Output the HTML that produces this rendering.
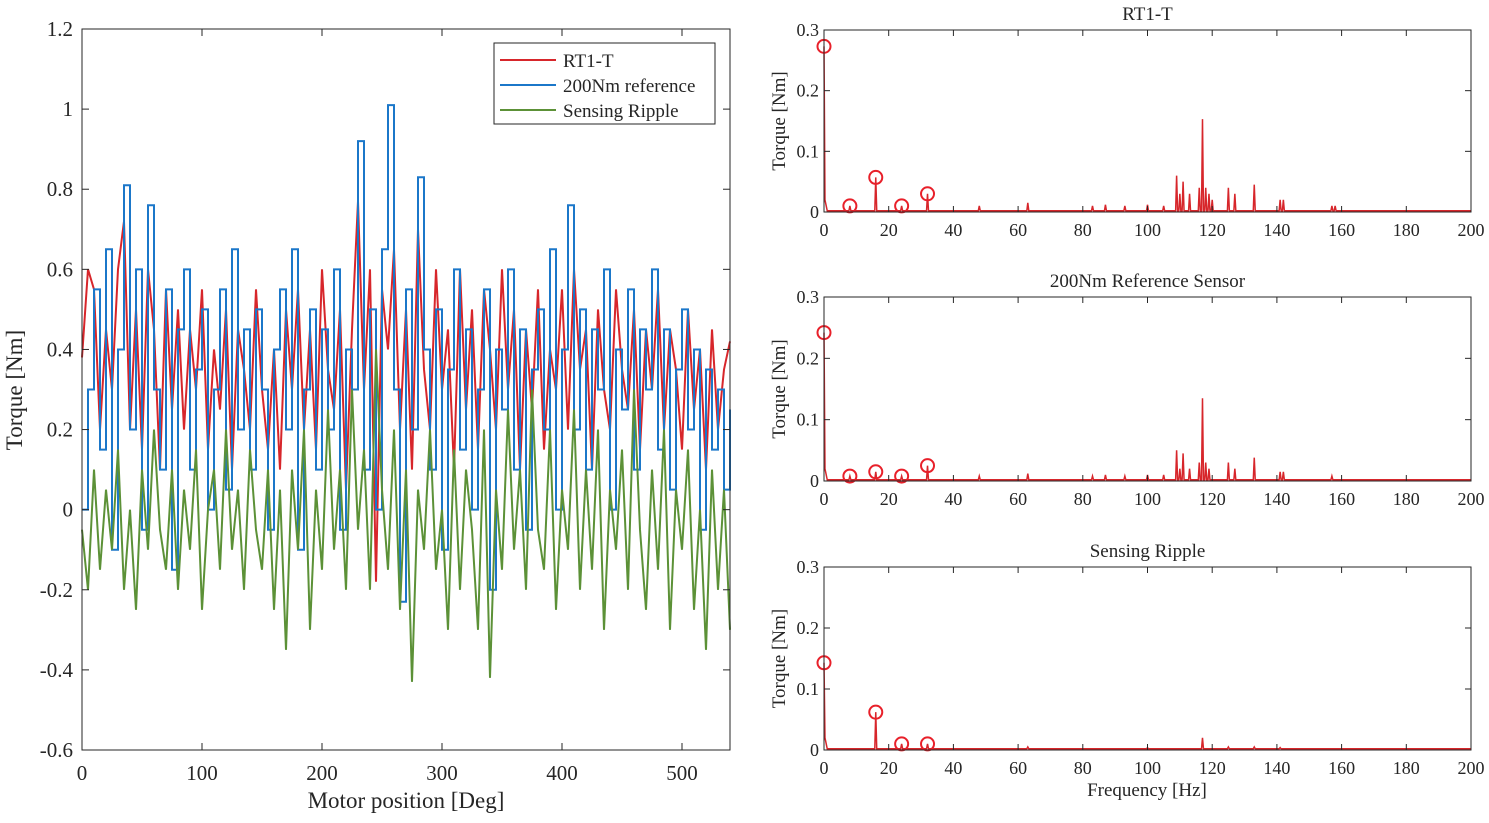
<!DOCTYPE html>
<html><head><meta charset="utf-8">
<style>
body{margin:0;background:#fff;}
svg text{font-family:"Liberation Serif",serif;fill:#262626;}
</style></head>
<body>
<svg id="c" width="1489" height="818"></svg>
<script>
// Left chart data (motor position 0..540 deg, evenly sampled)
const redVals=[0.38,0.6,0.55,0.2,0.45,0.3,0.6,0.72,0.2,0.5,0.15,0.6,0.45,0.1,0.55,0.25,0.5,0.2,0.45,0.3,0.55,0.15,0.4,0.25,0.5,0.1,0.45,0.35,0.2,0.55,0.3,0.15,0.4,0.1,0.5,0.3,0.55,0.2,0.45,0.15,0.6,0.35,0.25,0.5,0.05,0.45,0.77,0.3,0.6,-0.18,0.55,0.4,0.65,0.2,0.5,0.1,0.7,0.35,0.2,0.6,0.3,0.45,0.1,0.6,0.25,0.5,0.15,0.55,0.4,0.2,0.6,0.3,0.5,0.1,0.45,0.25,0.55,0.15,0.4,0.3,0.55,0.2,0.6,0.35,0.45,0.1,0.5,0.3,0.2,0.55,0.35,0.25,0.5,0.15,0.45,0.3,0.55,0.2,0.45,0.35,0.15,0.5,0.25,0.4,0.1,0.45,0.2,0.35,0.42];
const blueVals=[0.0,0.3,0.55,0.15,0.65,-0.1,0.4,0.81,0.2,0.6,-0.05,0.76,0.3,0.1,0.55,-0.15,0.45,0.6,0.1,0.35,0.5,0.0,0.3,0.55,0.05,0.65,0.2,0.45,0.1,0.5,0.3,-0.05,0.4,0.55,0.2,0.65,-0.1,0.3,0.5,0.1,0.45,0.2,0.6,-0.05,0.4,0.3,0.92,0.1,0.5,0.0,0.65,1.01,0.3,-0.23,0.55,0.2,0.83,0.4,0.1,0.5,-0.1,0.35,0.6,0.15,0.45,0.0,0.3,0.55,-0.2,0.4,0.25,0.6,0.1,0.45,-0.05,0.35,0.5,0.2,0.65,0.0,0.4,0.76,0.2,0.5,0.1,0.45,0.3,0.6,0.0,0.4,0.25,0.55,0.1,0.45,0.3,0.6,0.15,0.45,0.05,0.35,0.5,0.2,0.4,-0.05,0.35,0.15,0.3,0.05,0.25];
const greenVals=[-0.05,-0.2,0.1,-0.15,0.05,-0.1,0.15,-0.2,0.0,-0.25,0.1,-0.1,0.2,-0.05,-0.15,0.1,-0.2,0.05,-0.1,0.15,-0.25,0.0,0.1,-0.15,0.2,-0.1,0.05,-0.2,0.15,-0.05,-0.15,0.1,-0.25,0.05,-0.35,0.1,-0.1,0.2,-0.3,0.05,-0.15,0.25,-0.1,0.1,-0.2,0.3,-0.05,0.15,-0.2,0.4,0.05,-0.15,0.2,-0.25,0.1,-0.43,0.05,-0.1,0.2,-0.15,0.0,-0.3,0.15,-0.2,0.1,-0.05,-0.3,0.2,-0.42,0.05,-0.15,0.25,-0.1,0.1,-0.2,0.3,-0.05,-0.15,0.2,-0.25,0.05,-0.1,0.25,-0.2,0.1,-0.15,0.2,-0.3,0.05,-0.1,0.15,-0.2,0.3,-0.05,-0.25,0.1,-0.15,0.2,-0.3,0.05,-0.1,0.15,-0.25,0.0,-0.35,0.1,-0.2,0.05,-0.3];
const leftXTicks=[0,100,200,300,400,500];
const leftYTicks=[-0.6,-0.4,-0.2,0,0.2,0.4,0.6,0.8,1,1.2];
const legendLabels=["RT1-T","200Nm reference","Sensing Ripple"];
// Spectra
const specTitles=["RT1-T","200Nm Reference Sensor","Sensing Ripple"];
const peakFreqs=[[0,8,16,24,32],[0,8,16,24,32],[0,16,24,32]];
const peakAmps=[[0.273,0.01,0.057,0.01,0.03],[0.242,0.008,0.015,0.008,0.025],[0.143,0.062,0.01,0.01]];
const spikeFreqs=[[48,63,83,87,93,100,105,109,110,111,113,116,117,118,119,120,125,127,133,141,142,157,158],
[48,63,83,87,93,100,105,109,110,111,113,116,117,118,119,125,127,133,141,142,157],
[63,100,117,125,133,141]];
const spikeAmps=[[0.01,0.015,0.01,0.012,0.01,0.012,0.01,0.06,0.03,0.05,0.03,0.04,0.153,0.04,0.03,0.02,0.04,0.03,0.045,0.02,0.02,0.01,0.01],
[0.008,0.012,0.008,0.01,0.008,0.01,0.01,0.05,0.02,0.045,0.02,0.03,0.135,0.03,0.02,0.03,0.02,0.038,0.015,0.015,0.008],
[0.005,0.004,0.02,0.005,0.005,0.004]];
const specXTicks=[0,20,40,60,80,100,120,140,160,180,200];
const specYTicks=[0,0.1,0.2,0.3];

const svg=document.getElementById('c');
const NS="http://www.w3.org/2000/svg";
function mk(tag,attrs,parent){const e=document.createElementNS(NS,tag);for(const k in attrs)e.setAttribute(k,attrs[k]);(parent||svg).appendChild(e);return e;}

// ---- Left chart
const L={x0:82,x1:730,y0:750,y1:29};
const lx=v=>L.x0+(v/540)*(L.x1-L.x0);
const ly=v=>L.y0-((v+0.6)/1.8)*(L.y0-L.y1);
const lg=mk('g',{});


function series(vals,color,name,step){
  let d='';const n=vals.length;
  vals.forEach((v,i)=>{const x=lx(i*540/(n-1)),y=ly(v);
    if(i===0)d+='M'+x+','+y;else if(step){d+=' H'+x+' V'+y;}else d+=' L'+x+','+y;});
  const p=mk('path',{d:d,fill:'none',stroke:color,'stroke-width':2},lg);
  
  
}
series(redVals,'#d7262b','rt1-t-line',false);
series(blueVals,'#1b77c9','reference-line',true);
series(greenVals,'#5c9137','sensing-ripple-line',false);
mk('rect',{x:L.x0,y:L.y1,width:L.x1-L.x0,height:L.y0-L.y1,fill:'none',stroke:'#262626','stroke-width':1},lg);
leftXTicks.forEach(t=>{const x=lx(t);mk('line',{x1:x,x2:x,y1:L.y0,y2:L.y0-7,stroke:'#262626'},lg);mk('line',{x1:x,x2:x,y1:L.y1,y2:L.y1+7,stroke:'#262626'},lg);
  const tx=mk('text',{x:x,y:L.y0+30,'text-anchor':'middle','font-size':21},lg);tx.textContent=t;});
leftYTicks.forEach(t=>{const y=ly(t);mk('line',{x1:L.x0,x2:L.x0+7,y1:y,y2:y,stroke:'#262626'},lg);mk('line',{x1:L.x1,x2:L.x1-7,y1:y,y2:y,stroke:'#262626'},lg);
  const tx=mk('text',{x:L.x0-9,y:y+7,'text-anchor':'end','font-size':21},lg);tx.textContent=String(Math.round(t*10)/10);});
let t=mk('text',{x:406,y:808,'text-anchor':'middle','font-size':23},lg);t.textContent='Motor position [Deg]';

t=mk('text',{x:22,y:390,'text-anchor':'middle','font-size':23,transform:'rotate(-90 22 390)'},lg);t.textContent='Torque [Nm]';

// legend
const leg=mk('g',{},lg);

mk('rect',{x:494,y:43,width:221,height:81,fill:'#fff',stroke:'#262626'},leg);
['#d7262b','#1b77c9','#5c9137'].forEach((c,i)=>{const y=60+i*25;
  mk('line',{x1:500,x2:556,y1:y,y2:y,stroke:c,'stroke-width':2},leg);
  const e=mk('text',{x:563,y:y+7,'font-size':19},leg);e.textContent=legendLabels[i];
  });

// ---- Spectra
const panels=[{y0:212,y1:30},{y0:481,y1:297},{y0:750,y1:567}];
const SX0=824,SX1=1471;
const sx=f=>SX0+f/200*(SX1-SX0);
panels.forEach((P,k)=>{
  const g=mk('g',{});
  
  
  const sy=v=>P.y0-v/0.3*(P.y0-P.y1);
  // line: baseline with spikes
  const pts=[];
  pts.push([0,peakAmps[k][0]]);pts.push([0.4,0.02]);pts.push([1,0.003]);
  const all=[];
  peakFreqs[k].slice(1).forEach((f,i)=>all.push([f,peakAmps[k][i+1]]));
  spikeFreqs[k].forEach((f,i)=>all.push([f,spikeAmps[k][i]]));
  all.sort((a,b)=>a[0]-b[0]);
  let d='M'+sx(0)+','+sy(peakAmps[k][0])+' L'+sx(0.3)+','+sy(0.02)+' L'+sx(1)+','+sy(0.002);
  all.forEach(([f,a])=>{d+=' L'+sx(f-0.3)+','+sy(0.002)+' L'+sx(f)+','+sy(a)+' L'+sx(f+0.3)+','+sy(0.002);});
  d+=' L'+sx(200)+','+sy(0.002);
  const p=mk('path',{d:d,fill:'none',stroke:'#d7262b','stroke-width':1.5},g);
  
  peakFreqs[k].forEach((f,i)=>{const c=mk('circle',{cx:sx(f),cy:sy(peakAmps[k][i]),r:6.5,fill:'none',stroke:'#e8202a','stroke-width':2},g);
    });
  mk('rect',{x:SX0,y:P.y1,width:SX1-SX0,height:P.y0-P.y1,fill:'none',stroke:'#262626'},g);
  specXTicks.forEach(tk=>{const x=sx(tk);mk('line',{x1:x,x2:x,y1:P.y0,y2:P.y0-6,stroke:'#262626'},g);mk('line',{x1:x,x2:x,y1:P.y1,y2:P.y1+6,stroke:'#262626'},g);
    const e=mk('text',{x:x,y:P.y0+24,'text-anchor':'middle','font-size':18},g);e.textContent=tk;});
  specYTicks.forEach(tk=>{const y=sy(tk);mk('line',{x1:SX0,x2:SX0+6,y1:y,y2:y,stroke:'#262626'},g);mk('line',{x1:SX1,x2:SX1-6,y1:y,y2:y,stroke:'#262626'},g);
    const e=mk('text',{x:SX0-5,y:y+6,'text-anchor':'end','font-size':18},g);e.textContent=tk;});
  const ti=mk('text',{x:(SX0+SX1)/2,y:P.y1-10,'text-anchor':'middle','font-size':19},g);ti.textContent=specTitles[k];
  
  const cy=(P.y0+P.y1)/2;
  const yt=mk('text',{x:785,y:cy,'text-anchor':'middle','font-size':19,transform:'rotate(-90 785 '+cy+')'},g);yt.textContent='Torque [Nm]';
  
});
t=mk('text',{x:1147,y:796,'text-anchor':'middle','font-size':19});t.textContent='Frequency [Hz]';

</script>
</body></html>
